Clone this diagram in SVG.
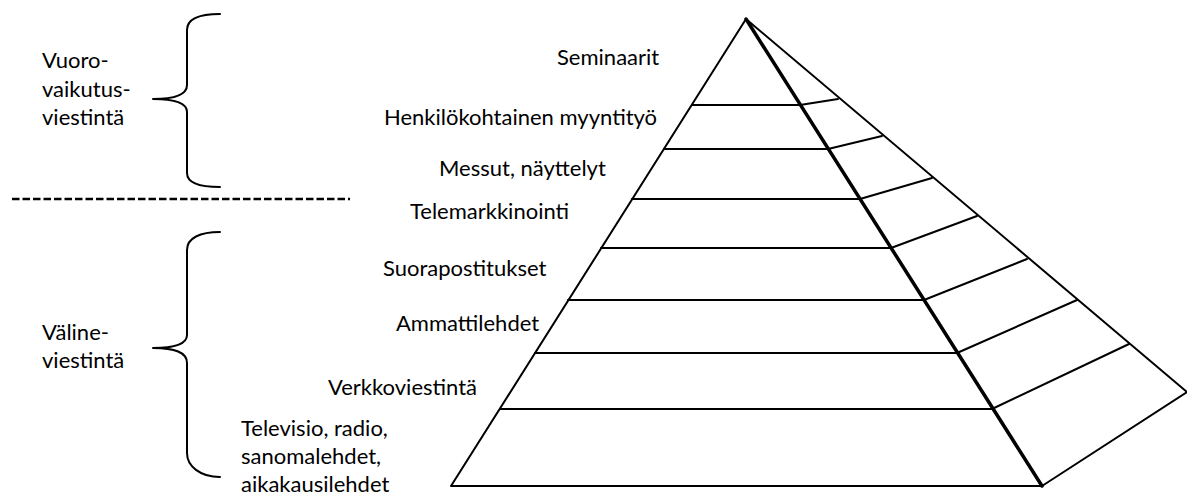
<svg xmlns="http://www.w3.org/2000/svg" width="1187" height="498" viewBox="0 0 1187 498">
<style>
.t{font-family:Lato,"Liberation Sans",sans-serif;font-size:22px;fill:#000}
.ln{stroke:#000;stroke-width:2;fill:none;stroke-linecap:round;stroke-linejoin:round}
.thick{stroke:#000;stroke-width:3.5;fill:none;stroke-linecap:round}
</style>
<rect width="1187" height="498" fill="#fff"/>
<g id="pyramid">
<path class="ln" d="M746,19 L451,486 L1042,486 L1187,392 L746,19"/>
<g id="levels">
<path class="ln" d="M692,105 L800,105 L838,99"/>
<path class="ln" d="M664,149 L828,149 L882,136"/>
<path class="ln" d="M632,199 L860,199 L932,178"/>
<path class="ln" d="M601,248 L891,248 L977,216"/>
<path class="ln" d="M568,300 L924,300 L1027,259"/>
<path class="ln" d="M535,353 L957,353 L1077,300"/>
<path class="ln" d="M500,409 L992,409 L1129,344"/>
</g>
<path class="thick" d="M746,19 L1042,486"/>
</g>
<g id="labels">
<text class="t" x="557" y="65">Seminaarit</text>
<text class="t" x="384" y="125">Henkilökohtainen myyntityö</text>
<text class="t" x="439" y="176">Messut, näyttelyt</text>
<text class="t" x="410" y="219">Telemarkkinointi</text>
<text class="t" x="383" y="276">Suorapostitukset</text>
<text class="t" x="396" y="331">Ammattilehdet</text>
<text class="t" x="328" y="395">Verkkoviestintä</text>
<text class="t" x="241" y="436">Televisio, radio,</text>
<text class="t" x="241" y="464">sanomalehdet,</text>
<text class="t" x="241" y="492">aikakausilehdet</text>
</g>
<g id="group-vuorovaikutus">
<path class="ln" d="M220,14 C200,14 187,18 187,30 L187,85 C187,95 175,99 153,99 C175,99 187,103 187,112 L187,173 C187,183 200,187 220,187"/>
<text class="t" x="42" y="68">Vuoro-</text>
<text class="t" x="42" y="97">vaikutus-</text>
<text class="t" x="42" y="125">viestintä</text>
</g>
<g id="group-valine">
<path class="ln" d="M220,232 C200,232 187,238 187,250 L187,335 C187,344 175,348 153,348 C175,348 187,352 187,363 L187,453 C187,466 200,477 220,477"/>
<text class="t" x="42" y="340">Väline-</text>
<text class="t" x="42" y="368">viestintä</text>
</g>
<g id="connectors">
<line x1="12" y1="199" x2="350" y2="199" stroke="#000" stroke-width="2.5" stroke-dasharray="7.5 3"/>
</g>
</svg>
